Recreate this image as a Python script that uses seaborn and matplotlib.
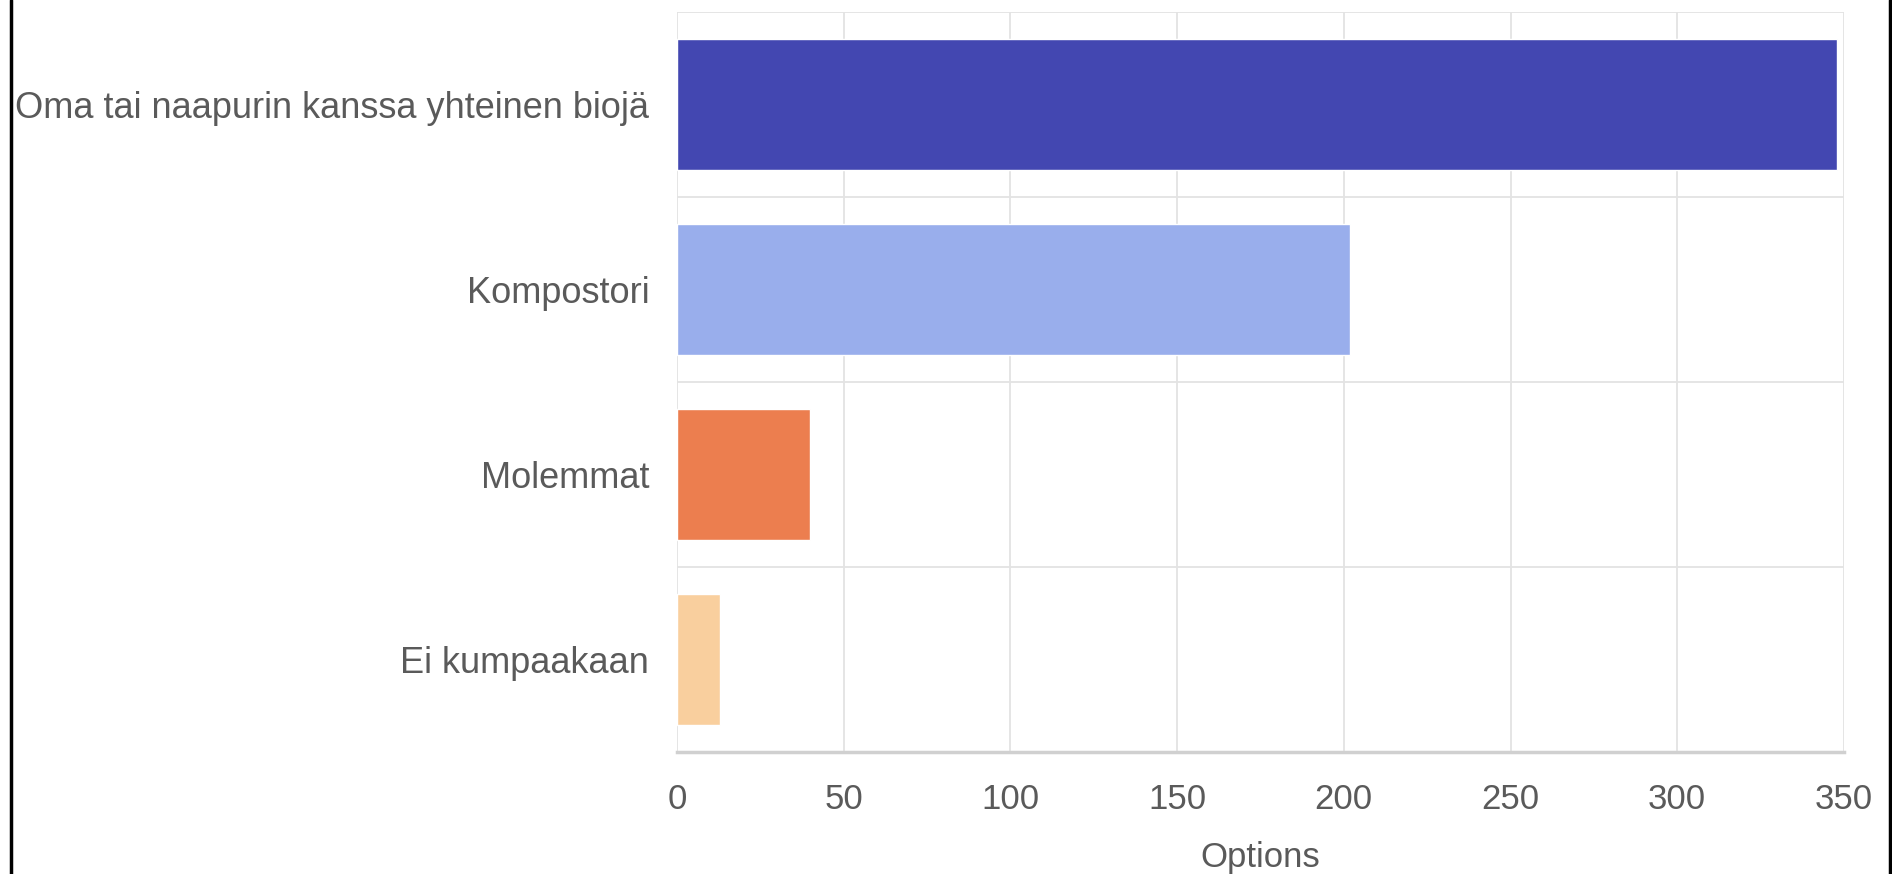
import matplotlib
matplotlib.use('Agg')
import matplotlib.pyplot as plt
import matplotlib.lines as mlines
import seaborn as sns
import pandas as pd

categories = ['Oma tai naapurin kanssa yhteinen biojä', 'Kompostori', 'Molemmat', 'Ei kumpaakaan']
counts = [348, 202, 40, 13]
bar_colors = ['#4347b1', '#99aeec', '#ec7e4f', '#f9cf9e']
x_ticks = [0, 50, 100, 150, 200, 250, 300, 350]

df = pd.DataFrame({'Vastaus': categories, 'Määrä': counts})

sns.set_theme(style='white')
plt.rcParams['font.family'] = ['Liberation Sans', 'DejaVu Sans']

fig = plt.figure(figsize=(18.92, 8.74), dpi=100)
ax = fig.add_axes([0.3578, 0.1396, 0.6168, 0.8467])

sns.barplot(data=df, x='Määrä', y='Vastaus', hue='Vastaus', palette=bar_colors,
            width=0.71, saturation=1, legend=False, ax=ax)

ax.set_xlim(0, 350)
ax.set_ylim(len(categories) - 0.5, -0.5)
ax.set_xticks(x_ticks)
ax.set_xticklabels([str(t) for t in x_ticks])
ax.set_yticks(range(len(categories)))
ax.set_yticklabels(categories)
ax.set_yticks([i - 0.5 for i in range(len(categories) + 1)], minor=True)

grid_col = '#e3e3e3'
ax.grid(axis='x', which='major', color=grid_col, linewidth=1.3)
ax.grid(axis='y', which='minor', color=grid_col, linewidth=1.3)
ax.set_axisbelow(True)

ax.tick_params(axis='x', which='major', length=13, width=1.3, color=grid_col,
               labelsize=25, labelcolor='#5a5a5a', pad=9)
ax.tick_params(axis='y', which='major', length=0, labelsize=26, labelcolor='#5a5a5a', pad=20)
ax.tick_params(axis='y', which='minor', length=13, width=1.3, color=grid_col)

for s in ['top', 'right', 'left']:
    ax.spines[s].set_visible(False)
ax.spines['bottom'].set_color('#d0d0d0')
ax.spines['bottom'].set_linewidth(2.5)

ax.set_xlabel('Options', fontsize=25, color='#5a5a5a', labelpad=18)
ax.set_ylabel('')

# black frame lines at the image's left and right edges
fig.add_artist(mlines.Line2D([0.0058, 0.0058], [0, 1], color='black', linewidth=2.5))
fig.add_artist(mlines.Line2D([0.9987, 0.9987], [0, 1], color='black', linewidth=2.5))

fig.savefig('out.png', dpi=100, facecolor='white')
